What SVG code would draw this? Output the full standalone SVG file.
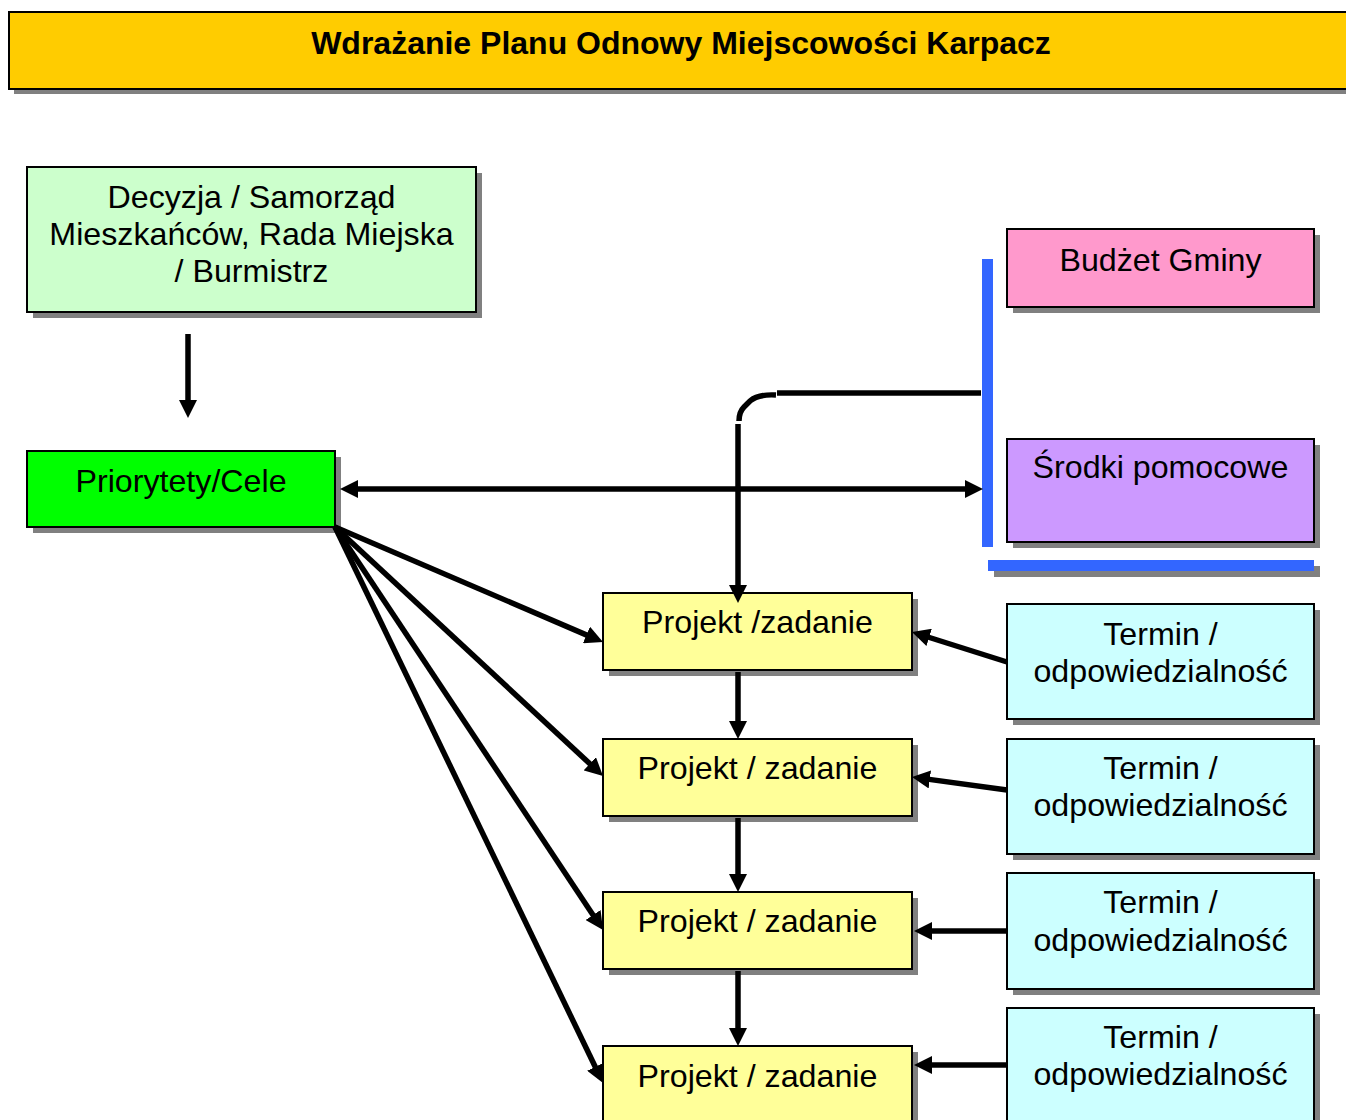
<svg xmlns="http://www.w3.org/2000/svg" width="1346" height="1120" viewBox="0 0 1346 1120">
<style>
.box{stroke:#000;stroke-width:2}
.sh{fill:#808080}
.t{font-family:"Liberation Sans",Arial,sans-serif;font-size:32.2px;fill:#000;text-anchor:middle}
.title{font-family:"Liberation Sans",Arial,sans-serif;font-size:32px;font-weight:bold;fill:#000;text-anchor:middle}
.c{fill:none;stroke:#000;stroke-width:5.5}
.blue{fill:#3366FF}
</style>
<defs>
<marker id="ah" markerUnits="userSpaceOnUse" markerWidth="18" markerHeight="18" viewBox="0 0 18 18" refX="8" refY="9" orient="auto-start-reverse">
<path d="M0,0 L18,9 L0,18 z" fill="#000"/>
</marker>
</defs>
<rect width="1346" height="1120" fill="#fff"/>

<g id="title">
<rect class="sh" x="14" y="17" width="1340" height="77"/>
<rect class="box" x="9" y="12" width="1345" height="77" fill="#FFCC00"/>
<text class="title" x="681" y="54">Wdrażanie Planu Odnowy Miejscowości Karpacz</text>
</g>

<g id="decyzja">
<rect class="sh" x="33" y="173" width="449" height="145"/>
<rect class="box" x="27" y="167" width="449" height="145" fill="#CCFFCC"/>
<text class="t" x="251.5" y="208">Decyzja / Samorząd</text>
<text class="t" x="251.5" y="245">Mieszkańców, Rada Miejska</text>
<text class="t" x="251.5" y="282">/ Burmistrz</text>
</g>

<g id="priorytety">
<rect class="sh" x="33" y="457" width="308" height="76"/>
<rect class="box" x="27" y="451" width="308" height="76" fill="#00FF00"/>
<text class="t" x="181" y="492">Priorytety/Cele</text>
</g>

<g id="budzet">
<rect class="sh" x="1013" y="235" width="307" height="78"/>
<rect class="box" x="1007" y="229" width="307" height="78" fill="#FF99CC"/>
<text class="t" x="1160.5" y="271">Budżet Gminy</text>
</g>

<g id="srodki">
<rect class="sh" x="1013" y="445" width="307" height="103"/>
<rect class="box" x="1007" y="439" width="307" height="103" fill="#CC99FF"/>
<text class="t" x="1160.5" y="478">Środki pomocowe</text>
</g>

<g id="bars">
<rect class="blue" x="982" y="259" width="11" height="288"/>
<rect class="sh" x="994" y="566" width="326" height="11"/>
<rect class="blue" x="988" y="560" width="326" height="11"/>
</g>

<g id="projekt1">
<rect class="sh" x="609" y="599" width="309" height="77"/>
<rect class="box" x="603" y="593" width="309" height="77" fill="#FFFF99"/>
<text class="t" x="757.5" y="633">Projekt /zadanie</text>
</g>
<g id="projekt2">
<rect class="sh" x="609" y="745" width="309" height="77"/>
<rect class="box" x="603" y="739" width="309" height="77" fill="#FFFF99"/>
<text class="t" x="757.5" y="779">Projekt / zadanie</text>
</g>
<g id="projekt3">
<rect class="sh" x="609" y="898" width="309" height="77"/>
<rect class="box" x="603" y="892" width="309" height="77" fill="#FFFF99"/>
<text class="t" x="757.5" y="932">Projekt / zadanie</text>
</g>
<g id="projekt4">
<rect class="sh" x="609" y="1052" width="309" height="100"/>
<rect class="box" x="603" y="1046" width="309" height="100" fill="#FFFF99"/>
<text class="t" x="757.5" y="1087">Projekt / zadanie</text>
</g>

<g id="termin1">
<rect class="sh" x="1013" y="610" width="307" height="115"/>
<rect class="box" x="1007" y="604" width="307" height="115" fill="#CCFFFF"/>
<text class="t" x="1160.5" y="645">Termin /</text>
<text class="t" x="1160.5" y="682">odpowiedzialność</text>
</g>
<g id="termin2">
<rect class="sh" x="1013" y="745" width="307" height="115"/>
<rect class="box" x="1007" y="739" width="307" height="115" fill="#CCFFFF"/>
<text class="t" x="1160.5" y="779">Termin /</text>
<text class="t" x="1160.5" y="816">odpowiedzialność</text>
</g>
<g id="termin3">
<rect class="sh" x="1013" y="879" width="307" height="116"/>
<rect class="box" x="1007" y="873" width="307" height="116" fill="#CCFFFF"/>
<text class="t" x="1160.5" y="913">Termin /</text>
<text class="t" x="1160.5" y="951">odpowiedzialność</text>
</g>
<g id="termin4">
<rect class="sh" x="1013" y="1014" width="307" height="130"/>
<rect class="box" x="1007" y="1008" width="307" height="130" fill="#CCFFFF"/>
<text class="t" x="1160.5" y="1048">Termin /</text>
<text class="t" x="1160.5" y="1085">odpowiedzialność</text>
</g>

<g id="connectors">
<line class="c" x1="188" y1="334" x2="188" y2="408" marker-end="url(#ah)"/>
<line class="c" x1="350" y1="489" x2="973" y2="489" marker-start="url(#ah)" marker-end="url(#ah)"/>
<path class="c" d="M981 393 H777"/>
<path class="c" d="M776 395 Q758 394 750 401 L744 407 Q739 412 739 421"/>
<line class="c" x1="738" y1="424" x2="738" y2="593" marker-end="url(#ah)"/>
<line class="c" x1="335" y1="527" x2="593.8" y2="638.1" marker-end="url(#ah)"/>
<line class="c" x1="335" y1="527" x2="595.7" y2="769.2" marker-end="url(#ah)"/>
<line class="c" x1="335" y1="527" x2="597.5" y2="921.7" marker-end="url(#ah)"/>
<line class="c" x1="335" y1="527" x2="598.7" y2="1074" marker-end="url(#ah)"/>
<line class="c" x1="738" y1="672" x2="738" y2="729" marker-end="url(#ah)"/>
<line class="c" x1="738" y1="818" x2="738" y2="882" marker-end="url(#ah)"/>
<line class="c" x1="738" y1="971" x2="738" y2="1036" marker-end="url(#ah)"/>
<line class="c" x1="1007" y1="662" x2="921.5" y2="635" marker-end="url(#ah)"/>
<line class="c" x1="1007" y1="790" x2="921.9" y2="778.4" marker-end="url(#ah)"/>
<line class="c" x1="1007" y1="931" x2="924" y2="931" marker-end="url(#ah)"/>
<line class="c" x1="1007" y1="1065" x2="924" y2="1065" marker-end="url(#ah)"/>
</g>
</svg>
